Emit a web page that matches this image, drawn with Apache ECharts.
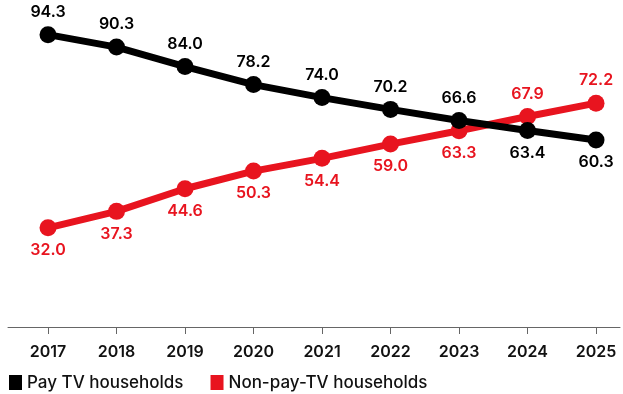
<!DOCTYPE html>
<html><head><meta charset="utf-8">
<script src="https://cdn.jsdelivr.net/npm/echarts@6/dist/echarts.min.js"></script>
<style>html,body{margin:0;padding:0;background:#fff}#c{width:623px;height:394px}</style>
</head><body><div id="c"></div>
<script>
const years = [2017, 2018, 2019, 2020, 2021, 2022, 2023, 2024, 2025];
const payTV = [94.3, 90.3, 84.0, 78.2, 74.0, 70.2, 66.6, 63.4, 60.3];
const nonPayTV = [32.0, 37.3, 44.6, 50.3, 54.4, 59.0, 63.3, 67.9, 72.2];
const seriesNames = ['Pay TV households', 'Non-pay-TV households'];

const BLACK = '#000000', RED = '#e8141f';
const FONT = 'Inter';

function build(vals, other, color, name) {
  return {
    name: name, type: 'line', color: color,
    symbol: 'circle', symbolSize: 17,
    lineStyle: { width: 7, color: color },
    itemStyle: { color: color },
    z: color === RED ? 2 : 3,
    data: vals.map((v, i) => ({
      value: [years[i], v],
      label: { position: v >= other[i] ? 'top' : 'bottom' }
    })),
    label: {
      show: true, distance: 6, color: color,
      fontFamily: FONT, fontSize: 16, fontWeight: 600,
      formatter: p => p.value[1].toFixed(1)
    }
  };
}

const chart = echarts.init(document.getElementById('c'));
chart.setOption({
  animation: false,
  grid: { left: 8, right: 3, top: 17, bottom: 67 },
  legend: {
    left: 4, bottom: -2, itemGap: 27, icon: 'rect', itemWidth: 13, itemHeight: 15,
    textStyle: { fontFamily: FONT, fontSize: 17, color: '#111', fontWeight: 500 },
    data: seriesNames
  },
  xAxis: {
    type: 'value', min: 2016.416, max: 2025.35,
    splitLine: { show: false },
    axisLine: { show: true, lineStyle: { color: '#666', width: 1 } },
    axisTick: { show: true, customValues: years, length: 7, lineStyle: { color: '#666' } },
    axisLabel: { customValues: years, margin: 17, color: '#111', fontFamily: FONT, fontSize: 16, fontWeight: 600,
      formatter: v => String(Math.round(v)) }
  },
  yAxis: { type: 'value', min: 0, max: 100, show: false, splitLine: { show: false } },
  series: [
    build(nonPayTV, payTV, RED, seriesNames[1]),
    build(payTV, nonPayTV, BLACK, seriesNames[0])
  ]
});
</script></body></html>
